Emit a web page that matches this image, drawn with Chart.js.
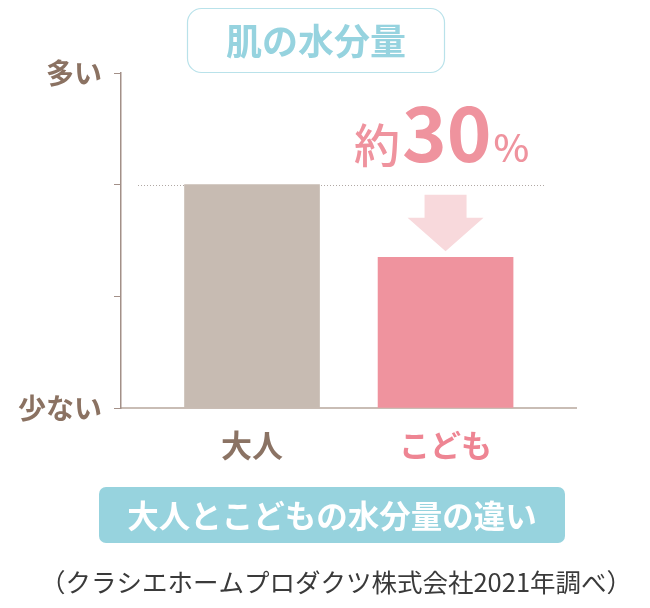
<!DOCTYPE html>
<html>
<head>
<meta charset="utf-8">
<script src="https://cdn.jsdelivr.net/npm/chart.js@4"></script>
<style>
  html, body { margin: 0; padding: 0; background: #fff; }
  #wrap { width: 650px; height: 608px; }
</style>
</head>
<body>
<div id="wrap"><canvas id="skin"></canvas></div>
<script>
// data
const categories = ['大人', 'こども'];
const moisture = [2, 1.35];
const barColors = ['#c7bbb2', '#ef939e'];
const labelColors = ['#8b7364', '#ee8593'];
const yLabels = { 0: '少ない', 3: '多い' };
const title = '肌の水分量';
const diffText = ['約', '30', '%'];
const caption = '大人とこどもの水分量の違い';
const source = '（クラシエホームプロダクツ株式会社2021年調べ）';

const JP = '"Noto Sans CJK JP", "Noto Sans", sans-serif';

function roundRect(ctx, x, y, w, h, r) {
    ctx.beginPath();
    ctx.moveTo(x + r, y);
    ctx.arcTo(x + w, y, x + w, y + h, r);
    ctx.arcTo(x + w, y + h, x, y + h, r);
    ctx.arcTo(x, y + h, x, y, r);
    ctx.arcTo(x, y, x + w, y, r);
    ctx.closePath();
}

const decor = {
    id: 'decor',
    beforeDatasetsDraw(chart) {
        const {ctx, chartArea, scales: {y}} = chart;
        // dotted reference line at adult level
        const yy = Math.round(y.getPixelForValue(moisture[0])) + 0.5;
        ctx.save();
        ctx.strokeStyle = '#b0a8a4';
        ctx.lineWidth = 1;
        ctx.setLineDash([1, 2]);
        ctx.beginPath();
        ctx.moveTo(chartArea.left + 17, yy);
        ctx.lineTo(chartArea.right - 30, yy);
        ctx.stroke();
        ctx.restore();
    },
    afterDraw(chart) {
        const {ctx, scales: {y}} = chart;
        const bars = chart.getDatasetMeta(0).data;
        const kid = bars[1];
        const top = y.getPixelForValue(moisture[0]);
        ctx.save();

        // arrow
        const ax = kid.x;
        const a0 = top + 10, a1 = kid.y - 6;
        const headTop = a0 + 23;
        ctx.fillStyle = '#f8d9dc';
        ctx.beginPath();
        ctx.moveTo(ax - 21, a0);
        ctx.lineTo(ax + 21, a0);
        ctx.lineTo(ax + 21, headTop);
        ctx.lineTo(ax + 38, headTop);
        ctx.lineTo(ax, a1);
        ctx.lineTo(ax - 38, headTop);
        ctx.lineTo(ax - 21, headTop);
        ctx.closePath();
        ctx.fill();

        // 約30%
        ctx.fillStyle = '#ef939e';
        ctx.textBaseline = 'alphabetic';
        ctx.textAlign = 'left';
        const fonts = ['500 46px ' + JP, 'bold 76px ' + JP, '500 38px ' + JP];
        const widths = diffText.map((t, i) => { ctx.font = fonts[i]; return ctx.measureText(t).width; });
        let x = ax - 4 - (widths[0] + widths[1] + widths[2] + 4) / 2;
        const base = 162;
        diffText.forEach((t, i) => {
            ctx.font = fonts[i];
            ctx.fillText(t, x, base);
            x += widths[i] + 2;
        });

        // title box
        ctx.strokeStyle = '#b9e2ea';
        ctx.lineWidth = 1.2;
        roundRect(ctx, 187.5, 8.5, 257, 64, 14);
        ctx.fillStyle = '#fff';
        ctx.fill();
        ctx.stroke();
        ctx.fillStyle = '#96d3df';
        ctx.font = 'bold 36px ' + JP;
        ctx.textAlign = 'center';
        ctx.textBaseline = 'middle';
        ctx.fillText(title, 316, 41);

        // caption box
        ctx.fillStyle = '#97d3de';
        roundRect(ctx, 99, 487, 466, 56, 7);
        ctx.fill();
        ctx.fillStyle = '#ffffff';
        ctx.font = 'bold 31.5px ' + JP;
        ctx.fillText(caption, 332, 516);

        // source
        ctx.fillStyle = '#3a3a3a';
        ctx.font = '25.5px ' + JP;
        ctx.fillText(source, 336, 582);
        ctx.restore();
    }
};

new Chart(document.getElementById('skin'), {
    type: 'bar',
    data: {
        datasets: [{
            data: moisture.map((v, i) => ({ x: i + 1, y: v })),
            backgroundColor: barColors,
            barThickness: 135,
            borderWidth: 0
        }]
    },
    options: {
        responsive: true,
        maintainAspectRatio: false,
        animation: false,
        events: [],
        layout: { padding: { top: 73, right: 74, left: 0, bottom: 0 } },
        plugins: { legend: { display: false }, tooltip: { enabled: false } },
        scales: {
            x: {
                type: 'linear',
                offset: false,
                min: 0.323,
                max: 2.674,
                afterBuildTicks: s => { s.ticks = categories.map((c, i) => ({ value: i + 1 })); },
                afterFit: s => { s.height = 200; },
                grid: { display: false, offset: false },
                border: { color: '#c9bdb5', width: 2 },
                ticks: {
                    padding: 11,
                    autoSkip: false,
                    maxRotation: 0,
                    font: { family: JP, size: 31, weight: 'bold' },
                    color: ctx => labelColors[ctx.index],
                    callback: v => categories[v - 1]
                }
            },
            y: {
                min: 0,
                max: 3,
                afterFit: s => { s.width = 121; },
                grid: { drawOnChartArea: false, tickLength: 7, color: '#a39088' },
                border: { color: '#a39088', width: 1.5 },
                ticks: {
                    stepSize: 1,
                    padding: 12,
                    font: { family: JP, size: 28, weight: 'bold' },
                    color: '#8b7262',
                    callback: v => yLabels[v] || ''
                }
            }
        }
    },
    plugins: [decor]
});
</script>
</body>
</html>
